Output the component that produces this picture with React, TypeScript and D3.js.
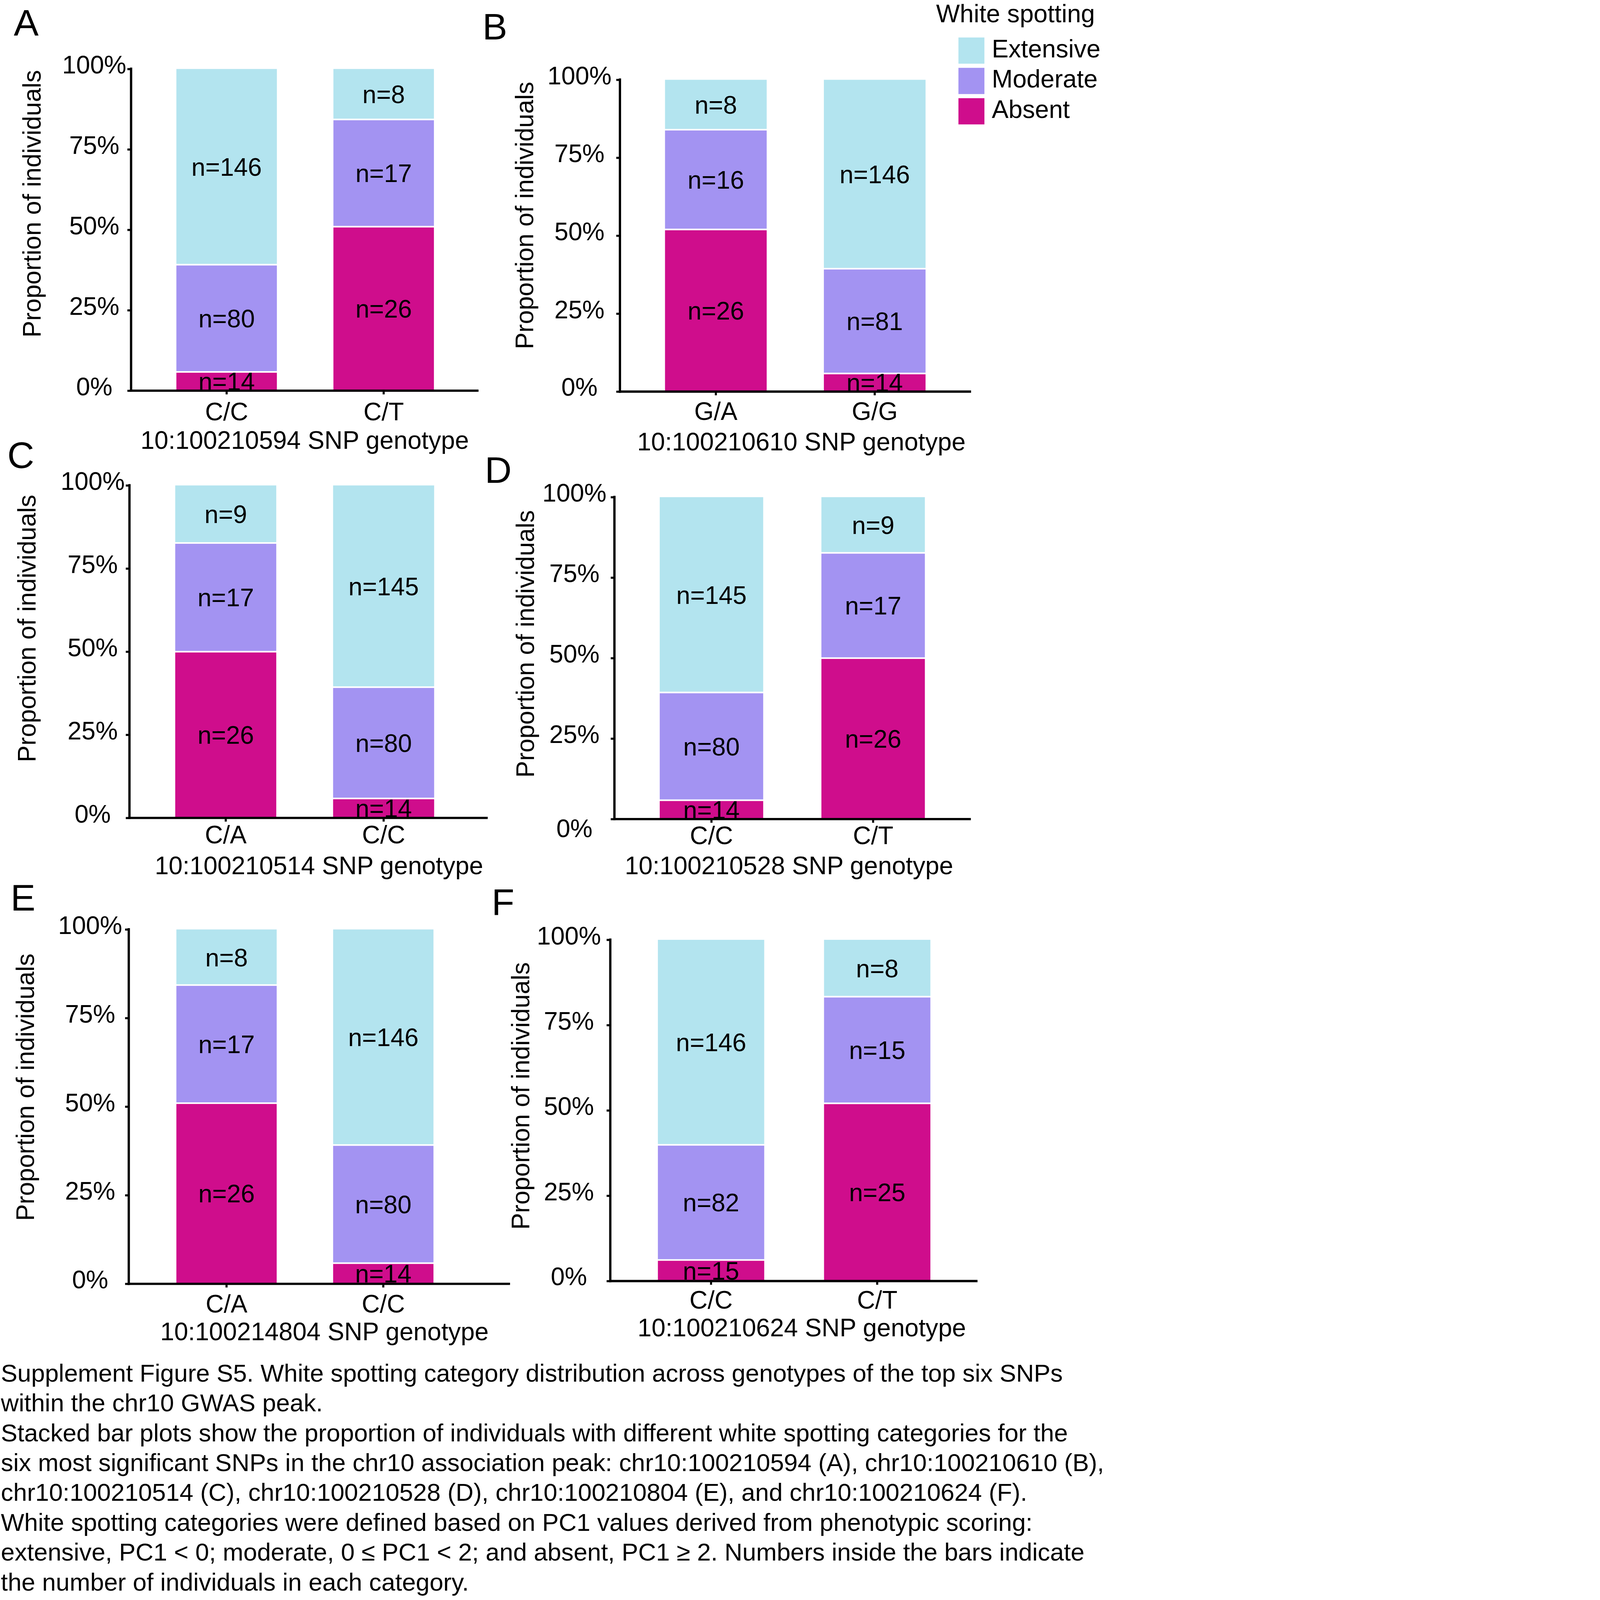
import React, { useRef, useEffect } from "react";
import * as d3 from "d3";

// ---- data ----
const panelIds = ["A", "B", "C", "D", "E", "F"];
const snpIds = [
  "10:100210594",
  "10:100210610",
  "10:100210514",
  "10:100210528",
  "10:100214804",
  "10:100210624",
];
const genotypes = [
  ["C/C", "C/T"],
  ["G/A", "G/G"],
  ["C/A", "C/C"],
  ["C/C", "C/T"],
  ["C/A", "C/C"],
  ["C/C", "C/T"],
];
// counts per genotype, same order as genotypes
const absentCounts = [[14, 26], [26, 14], [26, 14], [14, 26], [26, 14], [15, 25]];
const moderateCounts = [[80, 17], [16, 81], [17, 80], [80, 17], [17, 80], [82, 15]];
const extensiveCounts = [[146, 8], [8, 146], [9, 145], [145, 9], [8, 146], [146, 8]];

const categories = ["Absent", "Moderate", "Extensive"]; // bottom -> top
const legendOrder = ["Extensive", "Moderate", "Absent"];
const yTicks = [0, 0.25, 0.5, 0.75, 1];
const yTitle = "Proportion of individuals";
const legendTitle = "White spotting";

const captionLines = [
  "Supplement Figure S5. White spotting category distribution across genotypes of the top six SNPs",
  "within the chr10 GWAS peak.",
  "Stacked bar plots show the proportion of individuals with different white spotting categories for the",
  "six most significant SNPs in the chr10 association peak: chr10:100210594 (A), chr10:100210610 (B),",
  "chr10:100210514 (C), chr10:100210528 (D), chr10:100210804 (E), and chr10:100210624 (F).",
  "White spotting categories were defined based on PC1 values derived from phenotypic scoring:",
  "extensive, PC1 < 0; moderate, 0 \u2264 PC1 < 2; and absent, PC1 \u2265 2. Numbers inside the bars indicate",
  "the number of individuals in each category.",
];

// ---- layout (pixel placement of each panel, in figure units) ----
const panelLayout = [
  { axisX: 570, top: 300, bottom: 1699, right: 2081, bars: [767, 1887], tickDx: 160, catY: 1827, titleX: 1325, titleY: 1952, yTitleX: 176, yTitleY: 886, letterX: 60, letterY: 155, zeroY: -20 },
  { axisX: 2696, top: 347, bottom: 1703, right: 4223, bars: [2892, 4025], tickDx: 176, catY: 1826, titleX: 3485, titleY: 1958, yTitleX: 2318, yTitleY: 937, letterX: 2098, letterY: 172, zeroY: -22 },
  { axisX: 563, top: 2111, bottom: 3557, right: 2121, bars: [762, 1888], tickDx: 160, catY: 3668, titleX: 1387, titleY: 3802, yTitleX: 155, yTitleY: 2733, letterX: 32, letterY: 2035, zeroY: -20 },
  { axisX: 2672, top: 2162, bottom: 3562, right: 4222, bars: [2869, 4022], tickDx: 174, catY: 3671, titleX: 3431, titleY: 3802, yTitleX: 2323, yTitleY: 2800, letterX: 2108, letterY: 2099, zeroY: 38 },
  { axisX: 560, top: 4042, bottom: 5583, right: 2218, bars: [767, 1885], tickDx: 168, catY: 5708, titleX: 1411, titleY: 5829, yTitleX: 148, yTitleY: 4728, letterX: 46, letterY: 3959, zeroY: -20 },
  { axisX: 2654, top: 4087, bottom: 5571, right: 4251, bars: [2861, 4046], tickDx: 180, catY: 5691, titleX: 3487, titleY: 5812, yTitleX: 2302, yTitleY: 4766, letterX: 2138, letterY: 3979, zeroY: -22 },
];

const colors: Record<string, string> = {
  Extensive: "#b3e4ef",
  Moderate: "#a393f2",
  Absent: "#cf0d8c",
};

const W = 4866;
const H = 6958;
const FONT = "'Liberation Sans', Arial, Helvetica, sans-serif";
const FS = 109;
const CAPTION_FS = 107.5;

const App = () => {
  const svgRef = useRef<SVGSVGElement>(null);

  // the window may be smaller than the figure: fit the whole figure in it
  const scale = Math.min(1, window.innerWidth / W, window.innerHeight / H);

  useEffect(() => {
    document.body.style.margin = "0";
    if (!svgRef.current) return;
    const svg = d3.select(svgRef.current);
    svg.selectAll("*").remove();
    svg.append("rect").attr("width", W).attr("height", H).attr("fill", "#fff");

    panelIds.forEach((pid, p) => {
      const L = panelLayout[p];
      const g = svg.append("g").attr("font-family", FONT).attr("fill", "#000");

      const x = d3.scaleBand<string>().domain(genotypes[p]).range(L.bars as [number, number]).paddingInner(0.36).paddingOuter(0);
      const y = d3.scaleLinear().domain([0, 1]).range([L.bottom, L.top]);

      // stacked rows
      const rows = genotypes[p].map((gt, i) => ({
        genotype: gt,
        Absent: absentCounts[p][i],
        Moderate: moderateCounts[p][i],
        Extensive: extensiveCounts[p][i],
      }));
      const series = d3.stack<any>().keys(categories).offset(d3.stackOffsetExpand)(rows);
      const gap = 7;

      series.forEach((s, si) => {
        const key = s.key;
        const topInset = si < series.length - 1 ? gap / 2 : 0;
        const botInset = si > 0 ? gap / 2 : 0;
        g.append("g")
          .selectAll("rect")
          .data(s)
          .enter()
          .append("rect")
          .attr("x", (d: any) => x(d.data.genotype)!)
          .attr("width", x.bandwidth())
          .attr("y", (d: any) => y(d[1]) + topInset)
          .attr("height", (d: any) => y(d[0]) - y(d[1]) - topInset - botInset)
          .attr("fill", colors[key]);

        g.append("g")
          .selectAll("text")
          .data(s)
          .enter()
          .append("text")
          .attr("x", (d: any) => x(d.data.genotype)! + x.bandwidth() / 2)
          .attr("y", (d: any) => (y(d[0]) + y(d[1])) / 2)
          .attr("dy", "0.36em")
          .attr("text-anchor", "middle")
          .attr("font-size", FS)
          .text((d: any) => `n=${d.data[key]}`);
      });

      // y axis
      const gy = g
        .append("g")
        .attr("transform", `translate(${L.axisX},0)`)
        .call(d3.axisLeft(y).tickValues(yTicks).tickFormat(d3.format(".0%")).tickSizeInner(16).tickSizeOuter(0));
      gy.attr("font-size", FS).attr("font-family", FONT);
      gy.select(".domain").attr("stroke", "#000").attr("stroke-width", 10).attr("d", `M0,${L.top - 6}V${L.bottom + 5}`);
      gy.selectAll(".tick line").attr("stroke", "#000").attr("stroke-width", 9);
      gy.selectAll(".tick text")
        .attr("fill", "#000")
        .attr("text-anchor", "middle")
        .attr("x", -L.tickDx)
        .attr("y", (d: any) => (d === 0 ? L.zeroY : -20))
        .attr("dy", "0.36em");

      // x axis
      const gx = g
        .append("g")
        .attr("transform", `translate(0,${L.bottom})`)
        .call(d3.axisBottom(x).tickSizeInner(16).tickSizeOuter(0));
      gx.attr("font-size", FS).attr("font-family", FONT);
      gx.select(".domain").attr("stroke", "#000").attr("stroke-width", 10).attr("d", `M${L.axisX - 5},0H${L.right}`);
      gx.selectAll(".tick line").attr("stroke", "#000").attr("stroke-width", 9);
      gx.selectAll(".tick text").attr("fill", "#000").attr("y", L.catY - L.bottom).attr("dy", 0);

      // titles
      g.append("text")
        .attr("x", L.titleX)
        .attr("y", L.titleY)
        .attr("text-anchor", "middle")
        .attr("font-size", FS)
        .text(`${snpIds[p]} SNP genotype`);

      g.append("text")
        .attr("transform", `translate(${L.yTitleX},${L.yTitleY}) rotate(-90)`)
        .attr("text-anchor", "middle")
        .attr("font-size", FS)
        .text(yTitle);

      g.append("text")
        .attr("x", L.letterX)
        .attr("y", L.letterY)
        .attr("font-size", 162)
        .text(pid);
    });

    // legend
    const lg = svg.append("g").attr("font-family", FONT).attr("fill", "#000");
    lg.append("text").attr("x", 4071).attr("y", 96).attr("font-size", FS).text(legendTitle);
    const items = lg
      .selectAll("g.item")
      .data(legendOrder)
      .enter()
      .append("g")
      .attr("class", "item")
      .attr("transform", (_d, i) => `translate(4168,${163 + i * 132})`);
    items.append("rect").attr("width", 113).attr("height", 114).attr("fill", (d) => colors[d]);
    items.append("text").attr("x", 145).attr("y", 86).attr("font-size", FS).text((d) => d);

    // caption
    const cap = svg.append("g").attr("font-family", FONT).attr("fill", "#000").attr("font-size", CAPTION_FS);
    cap
      .selectAll("text")
      .data(captionLines)
      .enter()
      .append("text")
      .attr("x", 4)
      .attr("y", (_d, i) => 6008 + i * 129.8)
      .text((d) => d);
  }, []);

  return (
    <svg
      ref={svgRef}
      width={W * scale}
      height={H * scale}
      viewBox={`0 0 ${W} ${H}`}
      style={{ display: "block" }}
    />
  );
};

export default App;
